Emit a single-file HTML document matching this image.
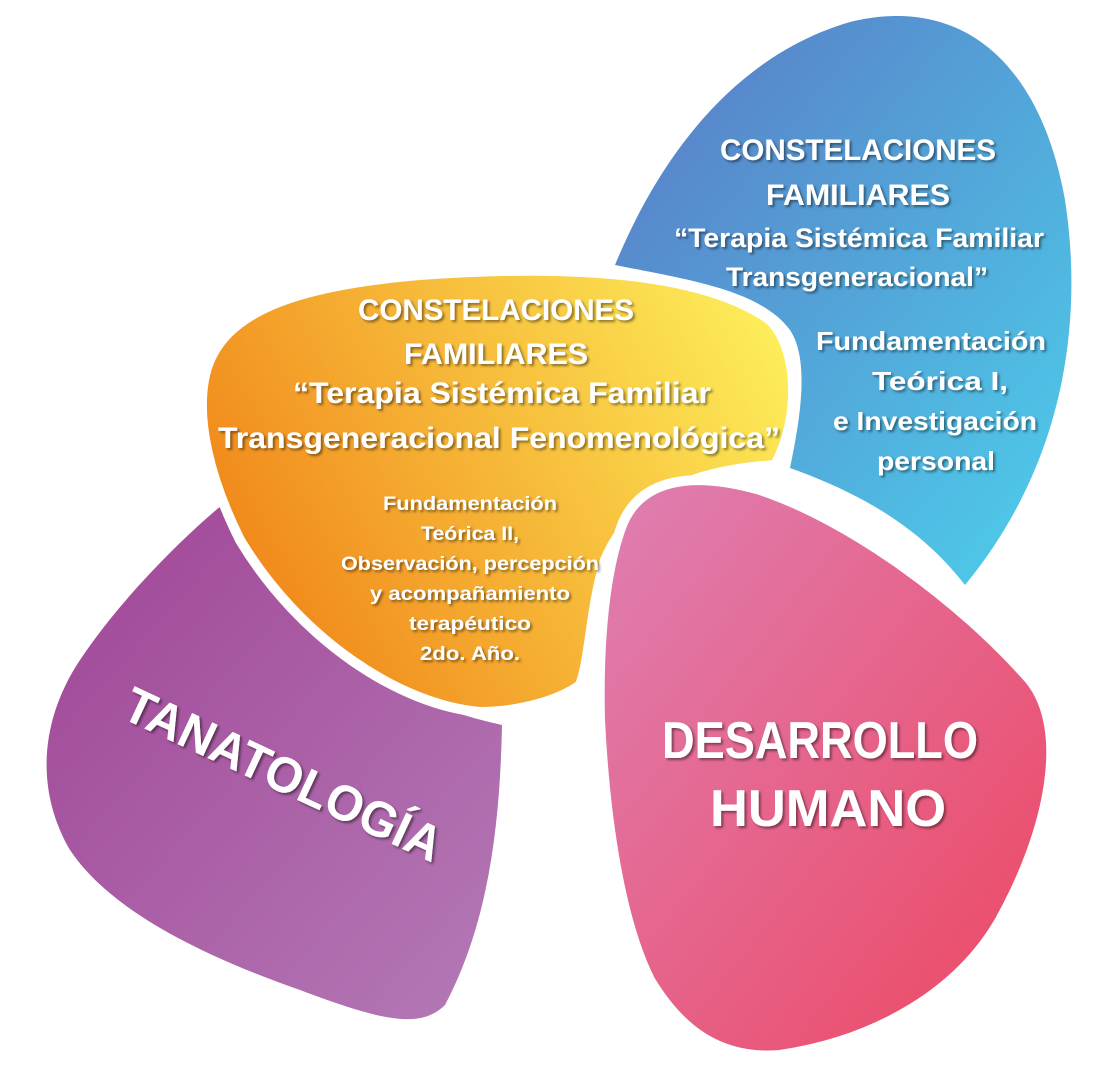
<!DOCTYPE html>
<html><head><meta charset="utf-8"><style>
html,body{margin:0;padding:0;background:#fff;}
svg{display:block;}
text{font-family:"Liberation Sans",sans-serif;font-weight:bold;fill:#fff;}
</style></head><body>
<svg width="1108" height="1076" viewBox="0 0 1108 1076" xmlns="http://www.w3.org/2000/svg">
<defs>
<linearGradient id="gb" x1="0" y1="0" x2="1" y2="1"><stop offset="0" stop-color="#5a78c4"/><stop offset="1" stop-color="#4cd0ec"/></linearGradient>
<linearGradient id="gy" x1="0" y1="0.6" x2="1" y2="0.2"><stop offset="0" stop-color="#f08418"/><stop offset="1" stop-color="#fdee5a"/></linearGradient>
<linearGradient id="gp" x1="0" y1="0" x2="1" y2="1"><stop offset="0" stop-color="#a04496"/><stop offset="1" stop-color="#b47ab6"/></linearGradient>
<linearGradient id="gk" x1="0" y1="0" x2="1" y2="1"><stop offset="0" stop-color="#de80b4"/><stop offset="1" stop-color="#ee4660"/></linearGradient>
<filter id="sh" x="-10%" y="-10%" width="120%" height="130%"><feDropShadow dx="2" dy="2" stdDeviation="1.2" flood-color="#000" flood-opacity="0.45"/></filter>
</defs>
<!-- blue -->
<path d="M615,265 C650,180 720,60 850,22 C960,-5 1040,60 1065,200 C1085,330 1060,470 965,585 C930,540 880,500 790,468 C800,420 810,360 790,330 C760,290 690,280 615,265 Z" fill="url(#gb)"/>
<!-- purple -->
<path d="M222,505 C260,570 320,640 400,690 C440,710 480,720 502,725 C500,820 490,920 445,1005 C420,1030 380,1020 300,990 C200,955 110,910 70,850 C35,790 40,720 80,660 C120,600 180,540 222,505 Z" fill="url(#gp)"/>
<!-- yellow -->
<path d="M205,375 C220,310 300,285 420,275 C560,265 700,270 770,320 C800,350 800,420 775,465 C700,470 635,490 605,560 C590,610 590,660 580,685 C560,700 520,712 480,712 C400,705 300,640 240,540 C210,480 195,420 205,375 Z" fill="url(#gy)" stroke="#fff" stroke-width="10"/>
<!-- pink -->
<path d="M622,525 C640,480 690,470 760,490 C850,520 960,600 1030,680 C1070,730 1050,830 1000,920 C960,990 880,1040 780,1055 C720,1060 680,1030 650,980 C620,920 605,820 600,720 C598,640 605,570 622,525 Z" fill="url(#gk)" stroke="#fff" stroke-width="10"/>

<g filter="url(#sh)">
<text x="496" y="320" font-size="30" text-anchor="middle" textLength="276" lengthAdjust="spacingAndGlyphs">CONSTELACIONES</text>
<text x="496" y="364" font-size="30" text-anchor="middle" textLength="184" lengthAdjust="spacingAndGlyphs">FAMILIARES</text>
<text x="502" y="403" font-size="30" text-anchor="middle" textLength="418" lengthAdjust="spacingAndGlyphs">“Terapia Sistémica Familiar</text>
<text x="499" y="448" font-size="30" text-anchor="middle" textLength="562" lengthAdjust="spacingAndGlyphs">Transgeneracional Fenomenológica”</text>
<text x="470" y="510" font-size="19" text-anchor="middle" textLength="174" lengthAdjust="spacingAndGlyphs">Fundamentación</text>
<text x="470" y="540" font-size="19" text-anchor="middle" textLength="98" lengthAdjust="spacingAndGlyphs">Teórica II,</text>
<text x="470" y="570" font-size="19" text-anchor="middle" textLength="258" lengthAdjust="spacingAndGlyphs">Observación, percepción</text>
<text x="470" y="600" font-size="19" text-anchor="middle" textLength="200" lengthAdjust="spacingAndGlyphs">y acompañamiento</text>
<text x="470" y="630" font-size="19" text-anchor="middle" textLength="122" lengthAdjust="spacingAndGlyphs">terapéutico</text>
<text x="470" y="660" font-size="19" text-anchor="middle" textLength="100" lengthAdjust="spacingAndGlyphs">2do. Año.</text>

<text x="858" y="160" font-size="30" text-anchor="middle" textLength="276" lengthAdjust="spacingAndGlyphs">CONSTELACIONES</text>
<text x="858" y="205" font-size="30" text-anchor="middle" textLength="184" lengthAdjust="spacingAndGlyphs">FAMILIARES</text>
<text x="859" y="247" font-size="27" text-anchor="middle" textLength="370" lengthAdjust="spacingAndGlyphs">“Terapia Sistémica Familiar</text>
<text x="857" y="286" font-size="27" text-anchor="middle" textLength="262" lengthAdjust="spacingAndGlyphs">Transgeneracional”</text>
<text x="931" y="350" font-size="26" text-anchor="middle" textLength="230" lengthAdjust="spacingAndGlyphs">Fundamentación</text>
<text x="940" y="390" font-size="26" text-anchor="middle" textLength="136" lengthAdjust="spacingAndGlyphs">Teórica I,</text>
<text x="935" y="430" font-size="26" text-anchor="middle" textLength="204" lengthAdjust="spacingAndGlyphs">e Investigación</text>
<text x="936" y="470" font-size="26" text-anchor="middle" textLength="118" lengthAdjust="spacingAndGlyphs">personal</text>

<text x="820" y="758" font-size="52" text-anchor="middle" textLength="316" lengthAdjust="spacingAndGlyphs">DESARROLLO</text>
<text x="828" y="826" font-size="52" text-anchor="middle" textLength="236" lengthAdjust="spacingAndGlyphs">HUMANO</text>

<text transform="translate(276,790) rotate(25)" font-size="50" text-anchor="middle" textLength="345" lengthAdjust="spacingAndGlyphs">TANATOLOGÍA</text>
</g>
</svg>
</body></html>
